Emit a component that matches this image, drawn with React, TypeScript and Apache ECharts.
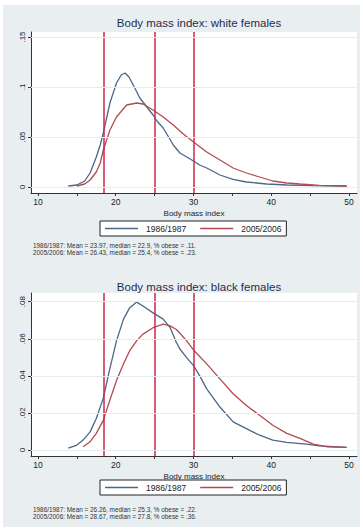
import React, { useEffect, useRef } from "react";
import * as echarts from "echarts";

// ---------- data ----------
const seriesNames = ["1986/1987", "2005/2006"];
const titles = ["Body mass index: white females", "Body mass index: black females"];
const xAxisTitle = "Body mass index";
const cutoffs = [18.5, 25, 30];
const xTicks = [10, 15, 20, 25, 30, 35, 40, 45, 50];
const xLabels = [10, 20, 30, 40, 50];
const yTicksWhite = [0, 0.05, 0.1, 0.15];
const yTicksBlack = [0, 0.02, 0.04, 0.06, 0.08];

// white females
const whiteBmi1986 = [13.9, 15, 16, 16.7, 17.5, 18, 18.4, 19.25, 20.1, 20.7, 21.2, 21.7, 22.25, 23.1, 24, 24.8, 25.3, 26.1, 26.8, 27.4, 28.25, 28.7, 30, 30.8, 31.7, 33.4, 35.1, 36.8, 39.4, 42, 45.4, 49.7];
const whiteDen1986 = [0.001, 0.002, 0.006, 0.014, 0.03, 0.042, 0.054, 0.084, 0.104, 0.112, 0.114, 0.11, 0.102, 0.089, 0.08, 0.072, 0.066, 0.059, 0.05, 0.042, 0.034, 0.032, 0.026, 0.022, 0.019, 0.012, 0.0077, 0.005, 0.003, 0.002, 0.0013, 0.001];
const whiteBmi2005 = [15, 16, 16.7, 17.5, 18, 18.4, 19.25, 20.1, 21.4, 22.7, 23.5, 24.8, 26.1, 27.4, 28.7, 30, 31.7, 33.4, 35.1, 36.8, 38.5, 40.2, 42, 43.7, 46.2, 49.7];
const whiteDen2005 = [0.001, 0.003, 0.007, 0.015, 0.024, 0.037, 0.057, 0.07, 0.082, 0.084, 0.083, 0.077, 0.07, 0.062, 0.053, 0.045, 0.035, 0.027, 0.019, 0.014, 0.01, 0.006, 0.004, 0.003, 0.0017, 0.001];

// black females
const blackBmi1986 = [13.9, 15, 15.8, 16.7, 17.5, 18.4, 19.25, 20.1, 21, 21.8, 22.7, 23.5, 24.8, 26.1, 27, 27.8, 28.25, 29.1, 30, 30.8, 31.7, 33.4, 35.1, 36.8, 38.5, 40.2, 42, 44.5, 46.2, 49.7];
const blackDen1986 = [0.001, 0.0027, 0.0054, 0.0098, 0.017, 0.028, 0.044, 0.059, 0.0706, 0.0768, 0.0798, 0.0777, 0.074, 0.0706, 0.066, 0.058, 0.0545, 0.05, 0.0455, 0.04, 0.033, 0.0232, 0.0152, 0.0116, 0.008, 0.0054, 0.0041, 0.0032, 0.0023, 0.0014];
const blackBmi2005 = [15.8, 16.7, 17.5, 18.4, 19.25, 20.1, 21, 21.8, 22.7, 23.5, 24.8, 26.1, 27, 27.8, 28.25, 29.1, 30, 31.7, 33.4, 35.1, 36.8, 38.5, 40.2, 42, 43.7, 45.4, 47.1, 49.7];
const blackDen2005 = [0.0018, 0.0045, 0.009, 0.016, 0.027, 0.0375, 0.0465, 0.0536, 0.059, 0.0625, 0.066, 0.0679, 0.067, 0.065, 0.063, 0.059, 0.054, 0.0465, 0.0384, 0.0304, 0.024, 0.0188, 0.0134, 0.009, 0.0063, 0.0032, 0.0018, 0.0014];

const notesWhite = [
  "1986/1987: Mean = 23.97, median = 22.9, % obese = .11.",
  "2005/2006: Mean = 26.43, median = 25.4, % obese = .23.",
];
const notesBlack = [
  "1986/1987: Mean = 26.26, median = 25.3, % obese = .22.",
  "2005/2006: Mean = 28.67, median = 27.8, % obese = .36.",
];

// ---------- styling ----------
const BLUE = "#4a6788";
const RED = "#b24a52";
const VLINE = "#c9294b";
const PANEL = "#e9eff1";
const FONT = "Liberation Sans, Arial, sans-serif";

const zip = (xs: number[], ys: number[]) => xs.map((x, i) => [x, ys[i]]);
const fmtY = (v: number) => (v === 0 ? "0" : String(+v.toFixed(3)).replace(/^0/, ""));

export default function App() {
  const ref = useRef<HTMLDivElement>(null);
  useEffect(() => {
    if (!ref.current) return;
    const chart = echarts.init(ref.current, null, { renderer: "svg" });

    const grids = [
      { left: 31, width: 326, top: 32, height: 161 },
      { left: 31, width: 326, top: 293, height: 163 },
    ];
    const yRanges = [
      { min: -0.006, max: 0.155, ticks: yTicksWhite },
      { min: -0.0032, max: 0.0847, ticks: yTicksBlack },
    ];
    const nameGaps = [16, 16];

    const xAxes = grids.map((_, i) => ({
      type: "value",
      gridIndex: i,
      min: 9.1,
      max: 51.03,
      name: xAxisTitle,
      nameLocation: "middle",
      nameGap: nameGaps[i],
      nameTextStyle: { fontSize: 8, color: "#222", fontFamily: FONT },
      axisLine: { show: true, onZero: false, lineStyle: { color: "#333", width: 1 } },
      axisTick: { show: true, length: 3, customValues: xTicks, lineStyle: { color: "#333" } },
      axisLabel: { customValues: xLabels, fontSize: 8.5, color: "#222", margin: 4, fontFamily: FONT },
      splitLine: { show: false },
    }));

    const yAxes = yRanges.map((r, i) => ({
      type: "value",
      gridIndex: i,
      min: r.min,
      max: r.max,
      axisLine: { show: true, onZero: false, lineStyle: { color: "#333", width: 1 } },
      axisTick: { show: true, length: 3, customValues: r.ticks, lineStyle: { color: "#333" } },
      axisLabel: {
        customValues: r.ticks,
        rotate: 90,
        fontSize: 8,
        color: "#222",
        margin: 5,
        fontFamily: FONT,
        formatter: (v: number) => fmtY(v),
      },
      splitLine: { show: false },
    }));

    const mk = (name: string, data: number[][], color: string, i: number, withLines: boolean) => ({
      type: "line",
      name,
      xAxisIndex: i,
      yAxisIndex: i,
      data,
      showSymbol: false,
      symbol: "none",
      lineStyle: { color, width: 1.3 },
      itemStyle: { color },
      z: 3,
      markLine: withLines
        ? {
            silent: true,
            symbol: "none",
            label: { show: false },
            lineStyle: { color: VLINE, width: 1.5, type: "solid" },
            data: cutoffs.map((c) => ({ xAxis: c })),
            z: 4,
          }
        : undefined,
    });

    const gridLines = (i: number) => ({
      type: "line",
      name: "grid" + i,
      xAxisIndex: i,
      yAxisIndex: i,
      data: [],
      z: 1,
      markLine: {
        silent: true,
        symbol: "none",
        label: { show: false },
        lineStyle: { color: "#e6edf1", width: 1, type: "solid" },
        data: yRanges[i].ticks.map((t) => ({ yAxis: t })),
      },
    });

    const series = [
      gridLines(0),
      gridLines(1),
      mk(seriesNames[0], zip(whiteBmi1986, whiteDen1986), BLUE, 0, true),
      mk(seriesNames[1], zip(whiteBmi2005, whiteDen2005), RED, 0, false),
      mk(seriesNames[0], zip(blackBmi1986, blackDen1986), BLUE, 1, true),
      mk(seriesNames[1], zip(blackBmi2005, blackDen2005), RED, 1, false),
    ];

    const legendTops = [221, 480];
    const legends = legendTops.map((top) => ({
      data: seriesNames.map((n, k) => ({ name: n, itemStyle: { color: k === 0 ? BLUE : RED } })),
      left: 100,
      top,
      orient: "horizontal",
      icon: "rect",
      itemWidth: 33,
      itemHeight: 1.3,
      itemGap: 14,
      padding: [3, 5, 3, 5],
      borderColor: "#222",
      borderWidth: 1,
      backgroundColor: "#fff",
      selectedMode: false,
      textStyle: { fontSize: 8.5, color: "#222", fontFamily: FONT, padding: [0, 0, 0, 3] },
    }));

    const noteText = (lines: string[], top: number) => ({
      type: "text",
      left: 33,
      top,
      style: {
        text: lines.join("\n"),
        fontSize: 6.4,
        lineHeight: 7,
        fill: "#333",
        fontFamily: FONT,
      },
    });

    chart.setOption({
      animation: false,
      backgroundColor: "#ffffff",
      title: titles.map((t, i) => ({
        text: t,
        left: 194,
        textAlign: "center",
        top: i === 0 ? 12 : 276,
        textStyle: { fontSize: 11.5, fontWeight: "normal", color: "#1c2d50", fontFamily: FONT },
      })),
      grid: grids.map((g) => ({ ...g, show: true, backgroundColor: "#ffffff", borderWidth: 0 })),
      xAxis: xAxes,
      yAxis: yAxes,
      legend: legends,
      series,
      graphic: [
        {
          type: "rect",
          left: 3,
          top: 5,
          shape: { width: 357, height: 522 },
          style: { fill: PANEL },
          z: -10,
          silent: true,
        },
        noteText(notesWhite, 242),
        noteText(notesBlack, 506),
      ],
    });

    return () => chart.dispose();
  }, []);

  return (
    <div
      ref={ref}
      style={{ position: "fixed", left: 0, top: 0, width: 363, height: 530 }}
    />
  );
}
